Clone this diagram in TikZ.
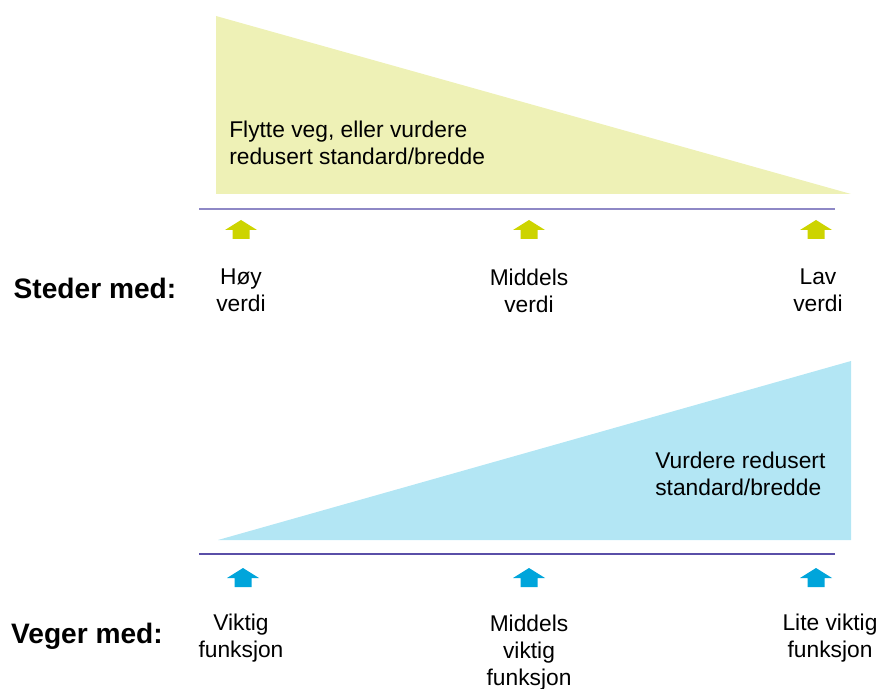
\documentclass[tikz,border=0pt]{standalone}
\usepackage{fontspec}
\setmainfont{Liberation Sans}
\usepackage{xcolor}
\usetikzlibrary{positioning}
\definecolor{lightyellow}{HTML}{EEF1B6}
\definecolor{darkyellow}{HTML}{CDD400}
\definecolor{lightblue}{HTML}{B3E6F4}
\definecolor{darkblue}{HTML}{00A5DB}
\definecolor{lineone}{HTML}{8E88C6}
\definecolor{linetwo}{HTML}{5A4FA8}
\tikzset{
  uparr/.pic={\fill (-8.5,0) -- (-8.5,-9) -- (-16,-9) -- (0,-19) -- (16,-9) -- (8.5,-9) -- (8.5,0) -- cycle;},
  lbl/.style={align=center,font=\fontsize{16.2}{19.2}\selectfont,inner sep=0pt,anchor=north},
  txt/.style={align=left,font=\fontsize{16.2}{19.2}\selectfont,inner sep=0pt,anchor=north west},
  head/.style={font=\fontsize{20}{24}\selectfont\bfseries,inner sep=0pt}
}

\begin{document}
\begin{tikzpicture}[x=0.025cm, y=-0.025cm]
  \useasboundingbox (0,0) rectangle (878,688);

  % Upper wedge
  \fill[lightyellow] (216,16) -- (851,194) -- (216,194) -- cycle;
  \node[txt] (flytte) at (229,121) {Flytte veg, eller vurdere\\redusert standard/bredde};
  \draw[lineone, line width=0.9pt] (199,209) -- (835,209);
  \foreach \x in {241,529,816}
    \pic[darkyellow] at (\x,239) {uparr};
  \node[head] (steder) at (95,288) {Steder med:};
  \node[lbl] (hoy) at (241,269) {Høy\\verdi};
  \node[lbl] (middels) at (529,269) {Middels\\verdi};
  \node[lbl] (lav) at (818,269) {Lav\\verdi};

  % Lower wedge
  \fill[lightblue] (218,540) -- (851,361) -- (851,540) -- cycle;
  \node[txt] (vurdere) at (655,452) {Vurdere redusert\\standard/bredde};
  \draw[linetwo, line width=0.9pt] (199,554) -- (835,554);
  \foreach \x in {243,529,816}
    \pic[darkblue] at (\x,587) {uparr};
  \node[head] (veger) at (87,636) {Veger med:};
  \node[lbl] (viktig) at (241,614) {Viktig\\funksjon};
  \node[lbl] (midviktig) at (529,615) {Middels\\viktig\\funksjon};
  \node[lbl] (lite) at (830,614) {Lite viktig\\funksjon};
\end{tikzpicture}
\end{document}
